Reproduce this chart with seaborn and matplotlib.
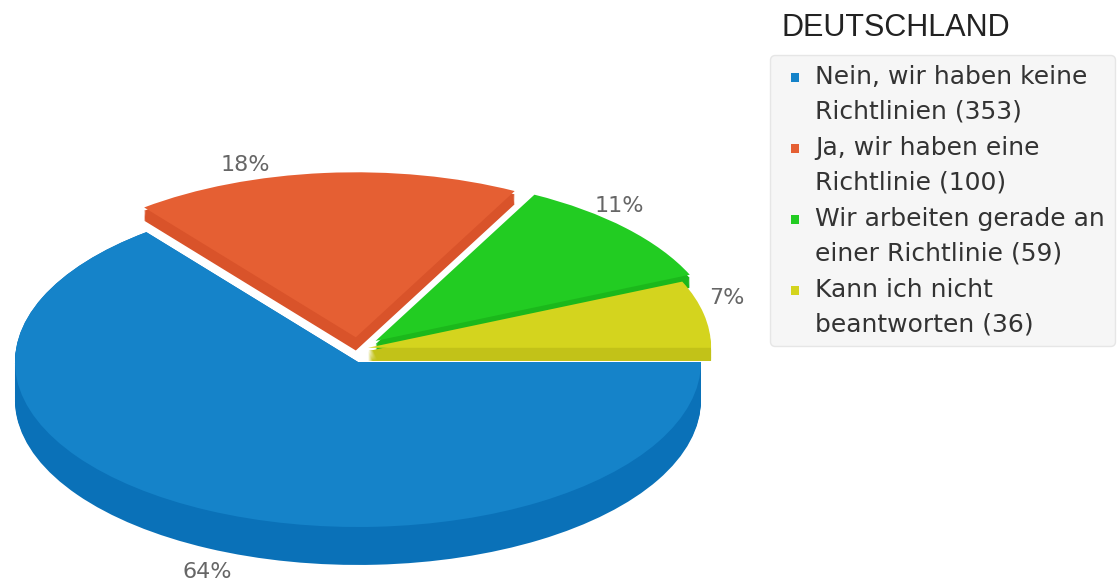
import numpy as np
import seaborn as sns
import matplotlib.pyplot as plt
from matplotlib.lines import Line2D
from matplotlib.path import Path

# data
labels = ["Nein, wir haben keine\nRichtlinien (353)",
          "Ja, wir haben eine\nRichtlinie (100)",
          "Wir arbeiten gerade an\neiner Richtlinie (59)",
          "Kann ich nicht\nbeantworten (36)"]
counts = [353, 100, 59, 36]
title = "DEUTSCHLAND"

top_colors = ["#1583c9", "#e55f33", "#22cc22", "#d4d41e"]
side_colors = ["#0a71b8", "#d9532a", "#1bb81b", "#c2c218"]
explode = [0, 0.07, 0.07, 0.03]
pct = [round(c / sum(counts) * 100) for c in counts]

sns.set_theme(style="white")
plt.rcParams["font.family"] = ["DejaVu Sans"]

fig = plt.figure(figsize=(11.19, 5.84), dpi=100)
ax = fig.add_axes([0, 0, 760 / 1119, 1])

depth = 0.23
lift = 0.06
none = (0, 0, 0, 0)
kw = dict(startangle=0, counterclock=False, explode=explode,
          wedgeprops=dict(linewidth=0))

# side of the big slice
for d in np.linspace(depth, 0, 30):
    ax.pie(counts, center=(0, -d), colors=[side_colors[0], none, none, none], **kw)
# sides of the lifted small slices
for d in np.linspace(0, lift, 10):
    ax.pie(counts, center=(0, d), colors=[none] + side_colors[1:], **kw)
# top faces
wedges, _ = ax.pie(counts, center=(0, 0), colors=[top_colors[0], none, none, none], **kw)
ax.pie(counts, center=(0, lift + 0.02), colors=[none] + top_colors[1:], **kw)

# percentage labels (radius, x shift, y shift)
place = [(1.05, 0.02, -0.33), (1.17, -0.22, 0.03), (1.22, -0.13, 0.11), (1.12, -0.02, 0.16)]
for w, p, (r, dx, dy) in zip(wedges, pct, place):
    a = np.deg2rad((w.theta1 + w.theta2) / 2)
    ax.text(r * np.cos(a) + dx, r * np.sin(a) + dy, f"{p}%", ha="center", va="center",
            fontsize=16, color="#666666")

ax.set_aspect("auto")
ax.set_xlim(-358 / 343, (760 - 358) / 343)
ax.set_ylim(-222 / 165, 362 / 165)
ax.axis("off")

# legend: small square raised to the first line of each two-line label
sq = Path([(-0.55, 1.75), (0.55, 1.75), (0.55, 2.85), (-0.55, 2.85), (-0.55, 1.75)], closed=True)
handles = [Line2D([], [], marker=sq, linestyle="none", markersize=31,
                  markerfacecolor=c, markeredgewidth=0) for c in top_colors]
leg = fig.legend(handles, labels, loc="upper left", bbox_to_anchor=(770 / 1119, 1 - 55 / 584),
                 borderaxespad=0, frameon=True, fancybox=True, fontsize=18,
                 handlelength=1.2, handletextpad=0.2, labelspacing=0.5, borderpad=0.4,
                 facecolor="#f6f6f6", edgecolor="#e6e6e6", framealpha=1)
for t in leg.get_texts():
    t.set_color("#333333")
    t.set_linespacing(1.55)
fig.text(782 / 1119, 1 - 28 / 584, title, fontsize=22, family="Liberation Sans",
         color="#222222", va="center", ha="left")

fig.savefig("out.png", dpi=100)
